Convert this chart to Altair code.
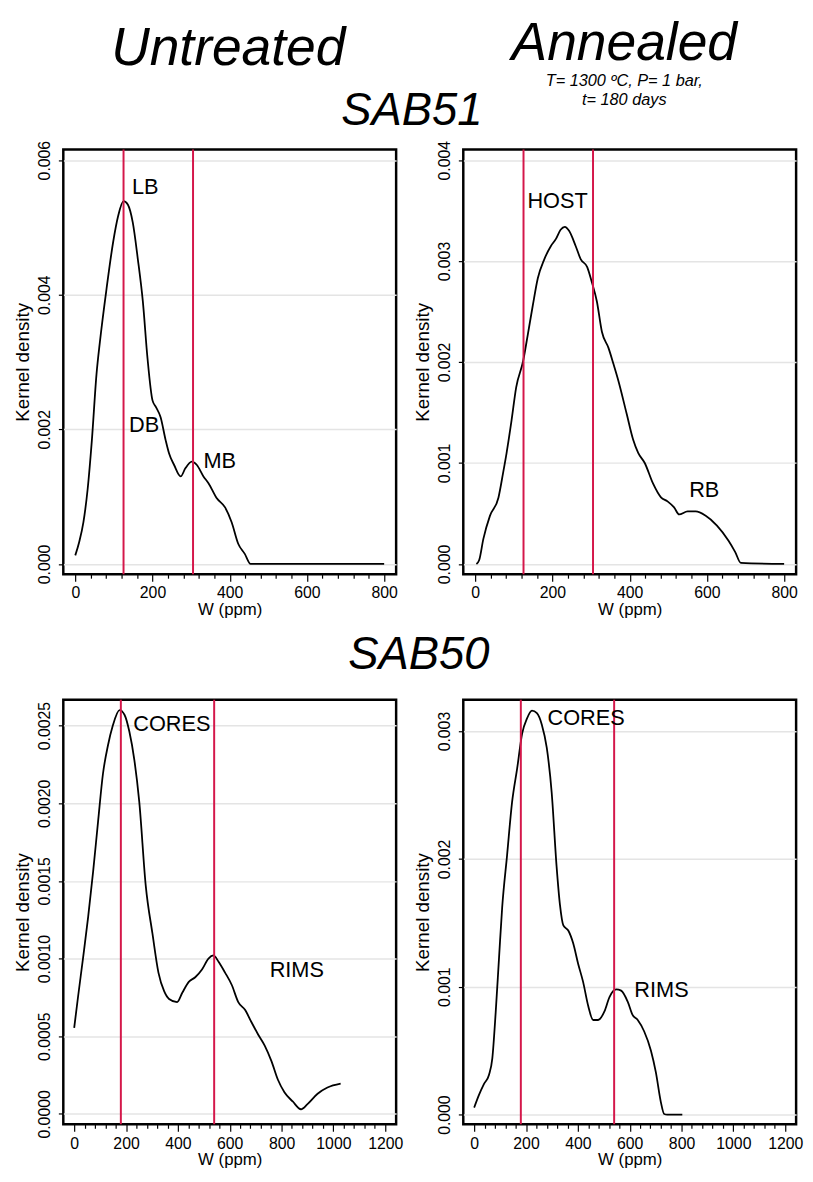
import altair as alt
import pandas as pd

FONT = "Liberation Sans"
RED = "#d4174a"

# ---------------- data ----------------
sab51_untreated_w = [0, 10, 21, 32, 43, 55, 64, 81, 98, 111, 125, 136, 149, 162, 175, 187, 200, 209, 221, 234,
                     243, 256, 273, 285, 302, 315, 332, 345, 366, 388, 405, 422, 439, 454, 800]
sab51_untreated_d = [0.000127, 0.000323, 0.000617, 0.00111, 0.00184, 0.00282, 0.00331, 0.00409, 0.00478, 0.00517,
                     0.00539, 0.00534, 0.00507, 0.00453, 0.00390, 0.00306, 0.00243, 0.00233, 0.00218, 0.00184,
                     0.00164, 0.00147, 0.00130, 0.00142, 0.00152, 0.00147, 0.00130, 0.00120, 0.00098, 0.00084,
                     0.00062, 0.00030, 0.00015, 0.0, 0.0]

sab51_annealed_w = [3, 10, 21, 38, 60, 72, 81, 94, 106, 124, 136, 149, 162, 179, 196, 209, 221, 232, 243, 260,
                    273, 290, 302, 315, 328, 345, 358, 371, 392, 409, 422, 439, 460, 481, 498, 515, 528, 550, 571, 596,
                    626, 656, 673, 688, 800]
sab51_annealed_d = [0.0, 0.000036, 0.000248, 0.000476, 0.000656, 0.000900, 0.001096, 0.001423, 0.001749, 0.00201,
                    0.00227, 0.00256, 0.00283, 0.00302, 0.00315, 0.00322, 0.00331, 0.00334, 0.00330, 0.00315,
                    0.00302, 0.00294, 0.00279, 0.00260, 0.00230, 0.00214, 0.00198, 0.00181, 0.00149, 0.00123,
                    0.00110, 0.00100, 0.00080, 0.00066, 0.00062, 0.00056, 0.00049, 0.00052, 0.00052, 0.00048,
                    0.00038, 0.00023, 0.00012, 0.00001, 0.0]

sab50_untreated_w = [0, 15, 34, 54, 73, 92, 111, 130, 149, 175, 194, 213, 232, 251, 276, 302, 325, 347, 366, 397,
                     417, 442, 467, 493, 518, 537, 557, 582, 608, 633, 659, 684, 710, 735, 761, 786, 811, 843, 875, 901,
                     939, 977, 1028]
sab50_untreated_d = [0.000554, 0.000756, 0.001002, 0.00127, 0.00156, 0.00188, 0.00219, 0.00237, 0.00250, 0.00260,
                     0.00257, 0.00246, 0.00228, 0.00201, 0.00147, 0.00116, 0.00091, 0.00079, 0.00074, 0.00072,
                     0.00078, 0.00085, 0.00088, 0.00093, 0.00100, 0.00102, 0.00098, 0.00091, 0.00083, 0.00072,
                     0.00067, 0.00059, 0.00051, 0.00044, 0.00034, 0.00022, 0.00014, 0.00008, 0.00003, 0.000065,
                     0.00013, 0.00017, 0.000195]

sab50_annealed_w = [0, 19, 38, 57, 70, 83, 96, 108, 127, 146, 166, 185, 204, 223, 242, 261, 280, 299, 318, 331,
                    344, 363, 382, 401, 420, 440, 459, 478, 503, 522, 548, 567, 593, 611, 631, 656, 682, 701, 720, 733,
                    745, 803]
sab50_annealed_d = [0.000055, 0.000156, 0.00024, 0.00031, 0.00044, 0.00080, 0.00123, 0.00162, 0.00203, 0.00244,
                    0.00271, 0.00298, 0.00310, 0.00316, 0.00314, 0.00305, 0.00287, 0.00252, 0.00194, 0.00164,
                    0.00148, 0.00144, 0.00134, 0.00118, 0.00104, 0.00085, 0.00074, 0.00074, 0.00081, 0.00092,
                    0.00098, 0.00097, 0.00088, 0.00078, 0.00074, 0.00065, 0.00050, 0.00033, 0.00010, 0.000005,
                    0.0, 0.0]

sab51_lines = [125, 305]
sab50_lines = [180, 540]

tl_labels = ["LB", "DB", "MB"]
tl_label_w = [147, 139, 332]
tl_label_d = [0.00549, 0.00196, 0.001424]

tr_labels = ["HOST", "RB"]
tr_label_w = [135, 554]
tr_label_d = [0.003527, 0.000666]

bl_labels = ["CORES", "RIMS"]
bl_label_w = [228, 754]
bl_label_d = [0.002464, 0.000883]

br_labels = ["CORES", "RIMS"]
br_label_w = [283, 618]
br_label_d = [0.003049, 0.00092]

sab51_yticks = [0, 0.002, 0.004, 0.006]
sab51a_yticks = [0, 0.001, 0.002, 0.003, 0.004]
sab50_yticks = [0, 0.0005, 0.001, 0.0015, 0.002, 0.0025]
sab50a_yticks = [0, 0.001, 0.002, 0.003]
x_ticks_800 = list(range(0, 801, 40))
x_ticks_1200 = list(range(0, 1201, 40))

head_titles = ["Untreated", "Annealed", "T= 1300 ºC, P= 1 bar,", "t= 180 days", "SAB51", "SAB50"]

PW, PH = 337, 430


def title_text(txt, x, y, size):
    return alt.Chart(pd.DataFrame({"t": [txt]})).mark_text(
        font=FONT, fontSize=size, fontStyle="italic", align="center", baseline="alphabetic",
        color="black", clip=False
    ).encode(x=alt.value(x), y=alt.value(y), text="t:N")


def panel(ws, ds, xdom, ydom, xticks, yticks, yfmt, lines, lab, lab_w, lab_d, extra=()):
    xscale = alt.Scale(domain=xdom, nice=False, zero=False)
    yscale = alt.Scale(domain=ydom, nice=False, zero=False)
    xaxis = alt.Axis(
        values=xticks, format="d", title="W (ppm)", grid=False, domain=False,
        labelExpr="datum.value % 200 === 0 ? datum.label : ''",
        tickSize={"condition": {"test": "datum.value % 200 === 0", "value": 7}, "value": 4},
        tickColor="black", tickWidth=1.2, labelFontSize=16, labelPadding=4,
        titleFontSize=17, titlePadding=1, labelFont=FONT, titleFont=FONT,
        labelColor="black", titleColor="black", titleFontWeight="normal",
    )
    yaxis = alt.Axis(
        values=yticks, format=yfmt, title="Kernel density", grid=True, gridColor="#e4e4e4",
        gridWidth=1.5, domain=False, tickSize=5, tickColor="black", tickWidth=1.2,
        labelAngle=-90, labelAlign="center", labelBaseline="bottom", labelFontSize=16,
        labelPadding=6, titleFontSize=19, titlePadding=4, labelFont=FONT, titleFont=FONT,
        labelColor="black", titleColor="black", titleFontWeight="normal",
    )
    xenc = alt.X("W:Q", scale=xscale, axis=xaxis)
    yenc = alt.Y("D:Q", scale=yscale, axis=yaxis)
    curve = alt.Chart(pd.DataFrame({"W": ws, "D": ds})).mark_line(
        color="black", strokeWidth=1.8, interpolate="monotone"
    ).encode(x=xenc, y=yenc)
    rules = alt.Chart(pd.DataFrame({"W": lines})).mark_rule(
        color=RED, strokeWidth=2
    ).encode(x=xenc)
    texts = alt.Chart(pd.DataFrame({"W": lab_w, "D": lab_d, "t": lab})).mark_text(
        font=FONT, fontSize=22, align="left", baseline="alphabetic", color="black"
    ).encode(x=xenc, y=yenc, text="t:N")
    return alt.layer(curve, rules, texts, *extra).properties(width=PW, height=PH)


# headings, placed relative to the panel they sit above
tl_extra = [title_text(head_titles[0], 167, -86, 54), title_text(head_titles[4], 353, -25, 46)]
tr_extra = [title_text(head_titles[1], 163, -91, 54),
            title_text(head_titles[2], 163, -64, 16.5),
            title_text(head_titles[3], 163, -45, 16.5)]
bl_extra = [title_text(head_titles[5], 360, -31, 46)]

tl = panel(sab51_untreated_w, sab51_untreated_d, [-31, 831], [-0.000153, 0.006157],
           x_ticks_800, sab51_yticks, ".3f", sab51_lines, tl_labels, tl_label_w, tl_label_d, tl_extra)
tr = panel(sab51_annealed_w, sab51_annealed_d, [-31, 831], [-0.000102, 0.004105],
           x_ticks_800, sab51a_yticks, ".3f", sab51_lines, tr_labels, tr_label_w, tr_label_d, tr_extra)
bl = panel(sab50_untreated_w, sab50_untreated_d, [-42, 1242], [-0.000067, 0.002667],
           x_ticks_1200, sab50_yticks, ".4f", sab50_lines, bl_labels, bl_label_w, bl_label_d, bl_extra)
br = panel(sab50_annealed_w, sab50_annealed_d, [-42, 1242], [-0.000076, 0.003246],
           x_ticks_1200, sab50a_yticks, ".3f", sab50_lines, br_labels, br_label_w, br_label_d)

chart = alt.concat(tl, tr, bl, br, columns=2, spacing={"row": 127, "column": 68}, bounds="flush").properties(
    padding={"left": 4, "top": 0, "right": 0, "bottom": 0}
).configure_view(stroke="black", strokeWidth=2.5)

chart.save("out.html", embed_options={"renderer": "svg", "actions": False})
